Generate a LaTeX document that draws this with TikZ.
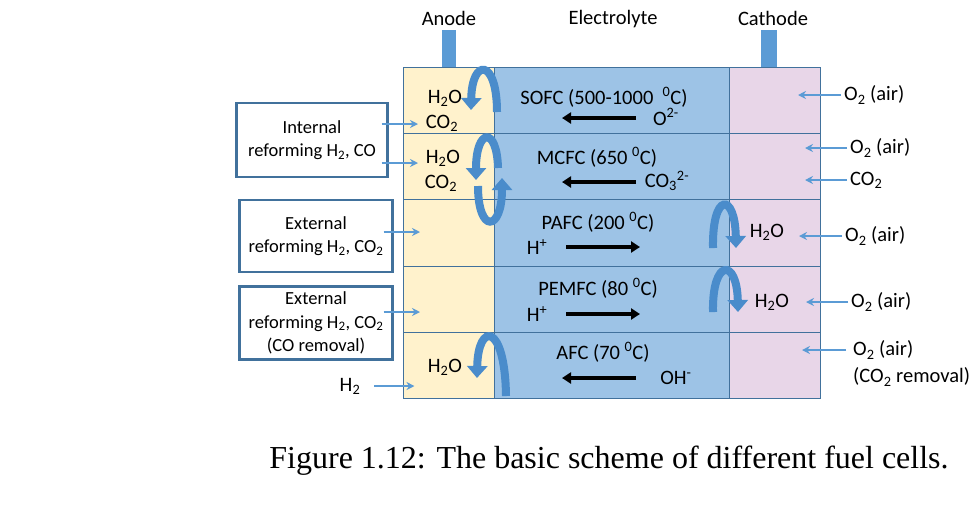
\documentclass[tikz,border=0pt]{standalone}
\usepackage{fontspec}
\setmainfont{Carlito}
\newfontfamily\captionfont{Liberation Serif}
\usetikzlibrary{arrows.meta}
\definecolor{anodeyellow}{HTML}{FFF2CC}
\definecolor{elecblue}{HTML}{9DC3E6}
\definecolor{cathpink}{HTML}{E8D6E8}
\definecolor{gridblue}{HTML}{41719C}
\definecolor{feedblue}{HTML}{5B9BD5}
\definecolor{turnblue}{HTML}{4A8CCB}
\newcommand{\degC}{\textsuperscript{0}C}
\begin{document}
\begin{tikzpicture}[x=1pt,y=-1pt,
  font=\fontsize{20.5}{24}\selectfont,
  every node/.style={inner sep=1pt},
  cell/.style={draw=gridblue,line width=0.8pt},
  feed/.style={draw=feedblue,line width=1.6pt,-{Stealth[length=8pt,width=8pt]}},
  ion/.style={line width=4.5pt,-{Triangle[length=9pt,width=11pt]}},
  turn/.style={draw=turnblue,line width=8pt,-{Triangle[length=12pt,width=20pt]}},
  reform/.style={draw=gridblue,line width=2.2pt,fill=white,align=center,inner sep=4pt,
    font=\fontsize{18.5}{23.5}\selectfont}]
\useasboundingbox (0,0) rectangle (974,515);
% cell layers
\fill[anodeyellow] (403,67) rectangle (494,398);
\fill[elecblue] (494,67) rectangle (729,398);
\fill[cathpink] (729,67) rectangle (820,398);
\draw[cell] (403,67) rectangle (820,398);
\foreach \y in {133,199,266,332}
  \draw[cell] (403,\y) -- (820,\y);
\draw[cell] (494,67) -- (494,398);
\draw[cell] (729,67) -- (729,398);
% terminals
\fill[feedblue] (442,30) rectangle (456,67);
\fill[feedblue] (761,30) rectangle (777,67);
\node (anode) at (449,18) {Anode};
\node (electrolyte) at (613,19) {Electrolyte};
\node (cathode) at (773,18) {Cathode};
% reforming boxes
\node[reform,minimum width=151pt,minimum height=74pt] (box1) at (312,140) {Internal\\reforming H\textsubscript{2}, CO};
\node[reform,minimum width=153pt,minimum height=72pt] (box2) at (316,236) {External\\reforming H\textsubscript{2}, CO\textsubscript{2}};
\node[reform,minimum width=153pt,minimum height=73pt] (box3) at (316,323) {External\\reforming H\textsubscript{2}, CO\textsubscript{2}\\(CO removal)};
\node (h2) at (350,386) {H\textsubscript{2}};
% anode side
\node (sofcwater) at (445,98) {H\textsubscript{2}O};
\node (sofcco2) at (442,123) {CO\textsubscript{2}};
\node (mcfcwater) at (443,158) {H\textsubscript{2}O};
\node (mcfcco2) at (441,183) {CO\textsubscript{2}};
\node (afcwater) at (445,367) {H\textsubscript{2}O};
\coordinate (in1) at (418,124);
\coordinate (in2) at (418,163);
\coordinate (in3) at (420,232);
\coordinate (in4) at (420,312);
\draw[feed] ([xshift=-7pt]box1.east |- in1) -- (in1);
\draw[feed] ([xshift=-7pt]box1.east |- in2) -- (in2);
\draw[feed] ([xshift=-10pt]box2.east |- in3) -- (in3);
\draw[feed] ([xshift=-10pt]box3.east |- in4) -- (in4);
\draw[feed] ([xshift=13pt]h2.east) -- ++(40,0);
% electrolyte
\node (sofc) at (604,97) {SOFC (500-1000 \ \degC)};
\node (otwo) at (666,117) {O\textsuperscript{2-}};
\node (mcfc) at (597,157) {MCFC (650 \degC)};
\node (carbonate) at (667,181) {CO\textsubscript{3}\textsuperscript{2-}};
\node (pafc) at (598,222) {PAFC (200 \degC)};
\node (pafcion) at (537,247) {H\textsuperscript{+}};
\node (pemfc) at (598,288) {PEMFC (80 \degC)};
\node (pemfcion) at (537,314) {H\textsuperscript{+}};
\node (afc) at (603,352) {AFC (70 \degC)};
\node (hydroxide) at (676,378) {OH\textsuperscript{-}};
\draw[ion] (636,118) -- (562,118);
\draw[ion] (636,182) -- (562,182);
\draw[ion] (566,247) -- (640,247);
\draw[ion] (566,314) -- (640,314);
\draw[ion] (636,378) -- (562,378);
% cathode side
\node (pafcwater) at (767,232) {H\textsubscript{2}O};
\node (pemfcwater) at (772,302) {H\textsubscript{2}O};
\node[anchor=west] (air1) at (843,95) {O\textsubscript{2} (air)};
\node[anchor=west] (air2) at (849,148) {O\textsubscript{2} (air)};
\node[anchor=west] (cotwo) at (849,180) {CO\textsubscript{2}};
\node[anchor=west] (air3) at (844,236) {O\textsubscript{2} (air)};
\node[anchor=west] (air4) at (850,302) {O\textsubscript{2} (air)};
\node[anchor=west] (air5) at (852,350) {O\textsubscript{2} (air)};
\node[anchor=west] (removal) at (852,377) {(CO\textsubscript{2} removal)};
\draw[feed] ([xshift=-2pt]air1.west) -- ++(-43,0);
\draw[feed] ([xshift=-2pt]air2.west) -- ++(-42,0);
\draw[feed] ([xshift=-2pt]cotwo.west) -- ++(-42,0);
\draw[feed] ([xshift=-2pt]air3.west) -- ++(-43,0);
\draw[feed] ([xshift=-2pt]air4.west) -- ++(-42,0);
\draw[feed] ([xshift=-6pt]air5.west) -- ++(-44,0);
% water and ion turns
\draw[turn] (497,112) .. controls (497,58) and (472,58) .. (471,110);
\draw[turn] (498,168) .. controls (497,126) and (476,128) .. (476,180);
\draw[turn] (478,186) .. controls (478,234) and (502,232) .. (502,178);
\draw[turn] (506,396) .. controls (505,322) and (478,322) .. (477,378);
\draw[turn] (713,248) .. controls (712,192) and (735,192) .. (736,248);
\draw[turn] (713,312) .. controls (712,258) and (737,258) .. (738,312);
% caption
\node[font=\captionfont\fontsize{32}{36}\selectfont,anchor=base] (caption) at (609,468) {Figure 1.12: The basic scheme of different fuel cells.};
\end{tikzpicture}
\end{document}
